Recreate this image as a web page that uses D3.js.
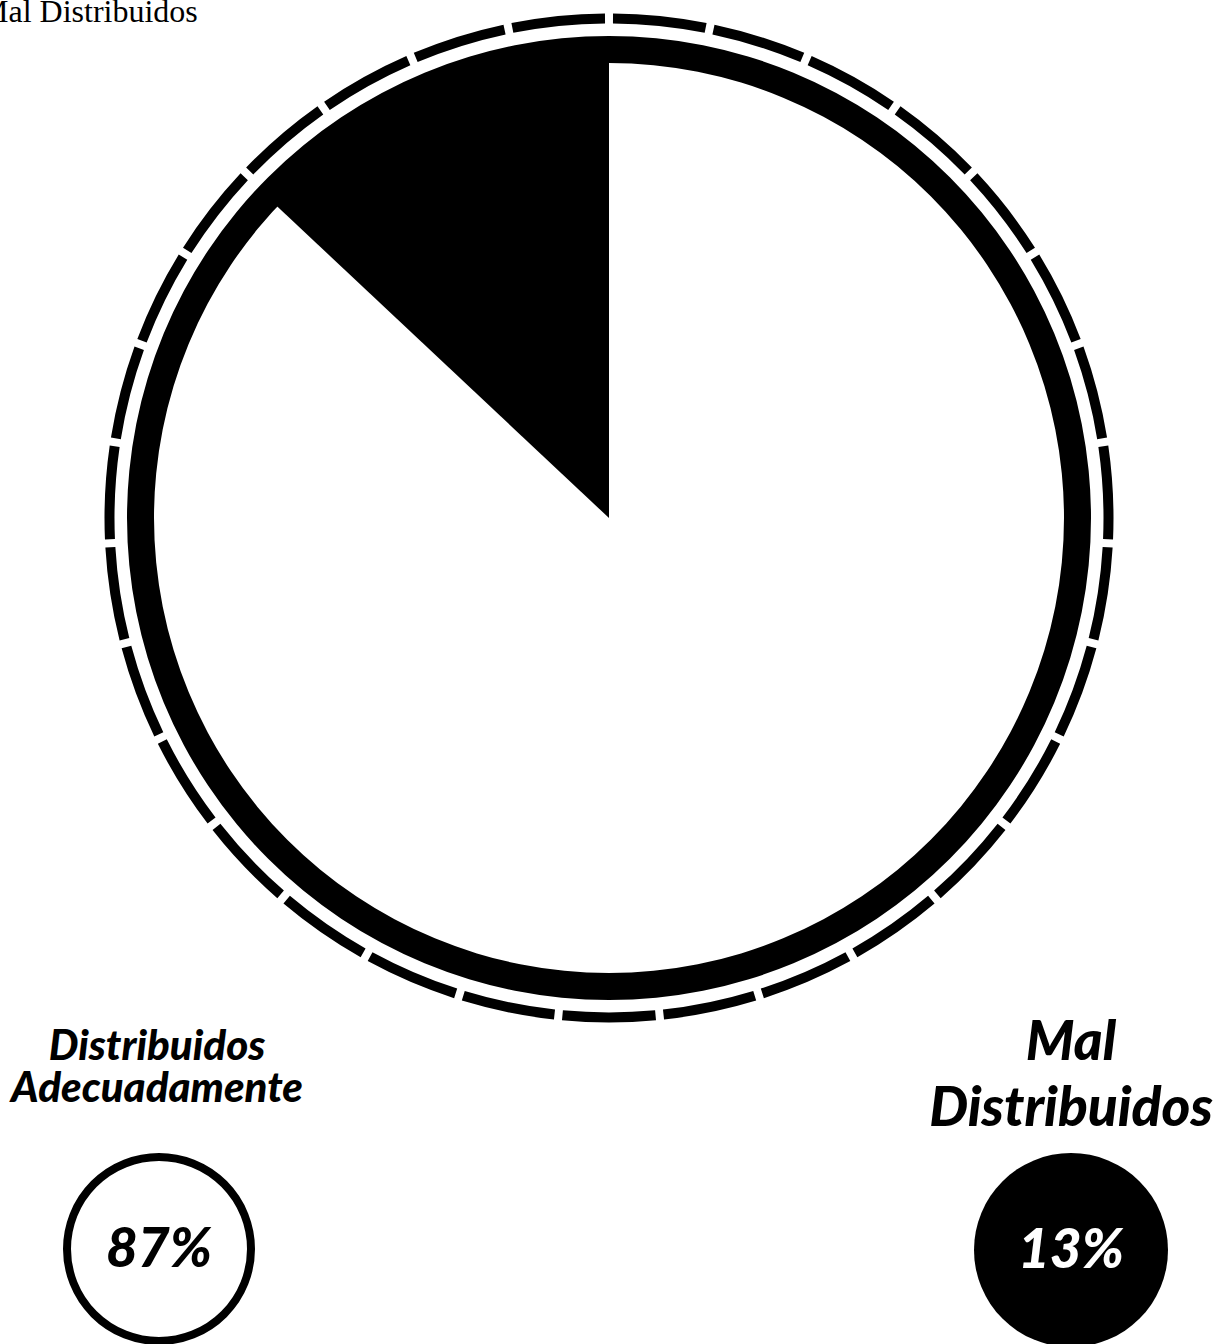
<!DOCTYPE html>
<meta charset="utf-8">
<style>
body{margin:0; background:#fff;}
svg text.label{font-family: Lato, "DejaVu Sans", sans-serif; font-style: italic; font-weight: 900; fill:#000;}
svg text.title{font-family: "Liberation Serif", "Times New Roman", serif;}
</style>
<svg id="chart" width="1217" height="1344"></svg>
<script src="https://d3js.org/d3.v7.min.js"></script>
<script>
// data
const categories = ['Distribuidos Adecuadamente', 'Mal Distribuidos']
const values = [87, 13]
const sliceColors = ['#fff', '#000']
const percentLabels = ['87%', '13%']
const titleText = 'Mal Distribuidos'
const dashCount = 31

let svg = d3.select('#chart')

// the leftover title, cut off at the left edge
svg.append('text')
  .attr('class', 'title')
  .attr('x', -20)
  .attr('y', 22)
  .style('font-size', '32px')
  .text(titleText)

// pie
let cx = 609, cy = 518
let pieG = svg.append('g').attr('transform', `translate(${cx},${cy})`)

let pie = d3.pie().sort(null).value(d => d)
let sliceArc = d3.arc().innerRadius(0).outerRadius(470)

pieG.selectAll('path.slice')
  .data(pie(values))
  .enter()
  .append('path')
  .attr('class', 'slice')
  .attr('d', sliceArc)
  .style('fill', (_, i) => sliceColors[i])

// thick black ring
pieG.append('path')
  .attr('d', d3.arc().innerRadius(455).outerRadius(482).startAngle(0).endAngle(2 * Math.PI)())
  .style('fill', '#000')

// dashed outer ring, one arc per dash, gaps starting at 12 o'clock
let step = 2 * Math.PI / dashCount
let gap = 8 / 500
let dashArc = d3.arc().innerRadius(494.5).outerRadius(504.5)
pieG.selectAll('path.dash')
  .data(d3.range(dashCount))
  .enter()
  .append('path')
  .attr('class', 'dash')
  .attr('d', k => dashArc({startAngle: k * step + gap / 2, endAngle: (k + 1) * step - gap / 2}))
  .style('fill', '#000')

// legend labels
let legend = [
  {lines: ['Distribuidos', 'Adecuadamente'], x: 157, y: 1060, size: 42, lh: 42},
  {lines: ['Mal', 'Distribuidos'], x: 1071, y: 1060, size: 55, lh: 66}
]
legend.forEach(l => {
  let t = svg.append('text')
    .attr('class', 'label')
    .attr('text-anchor', 'middle')
    .style('font-size', l.size + 'px')
  t.selectAll('tspan')
    .data(l.lines)
    .enter()
    .append('tspan')
    .attr('x', l.x)
    .attr('y', (_, j) => l.y + j * l.lh)
    .text(d => d)
})

// percent badges
let badges = [{x: 159, y: 1249}, {x: 1071, y: 1250}]
badges.forEach((b, i) => {
  svg.append('circle')
    .attr('cx', b.x).attr('cy', b.y)
    .attr('r', i === 0 ? 92 : 97)
    .style('fill', sliceColors[i])
    .style('stroke', '#000')
    .style('stroke-width', i === 0 ? 8 : 0)
  svg.append('text')
    .attr('class', 'label')
    .attr('x', b.x)
    .attr('y', b.y + 18)
    .attr('text-anchor', 'middle')
    .style('font-size', '55px')
    .style('fill', i === 0 ? '#000' : '#fff')
    .text(percentLabels[i])
})
</script>
